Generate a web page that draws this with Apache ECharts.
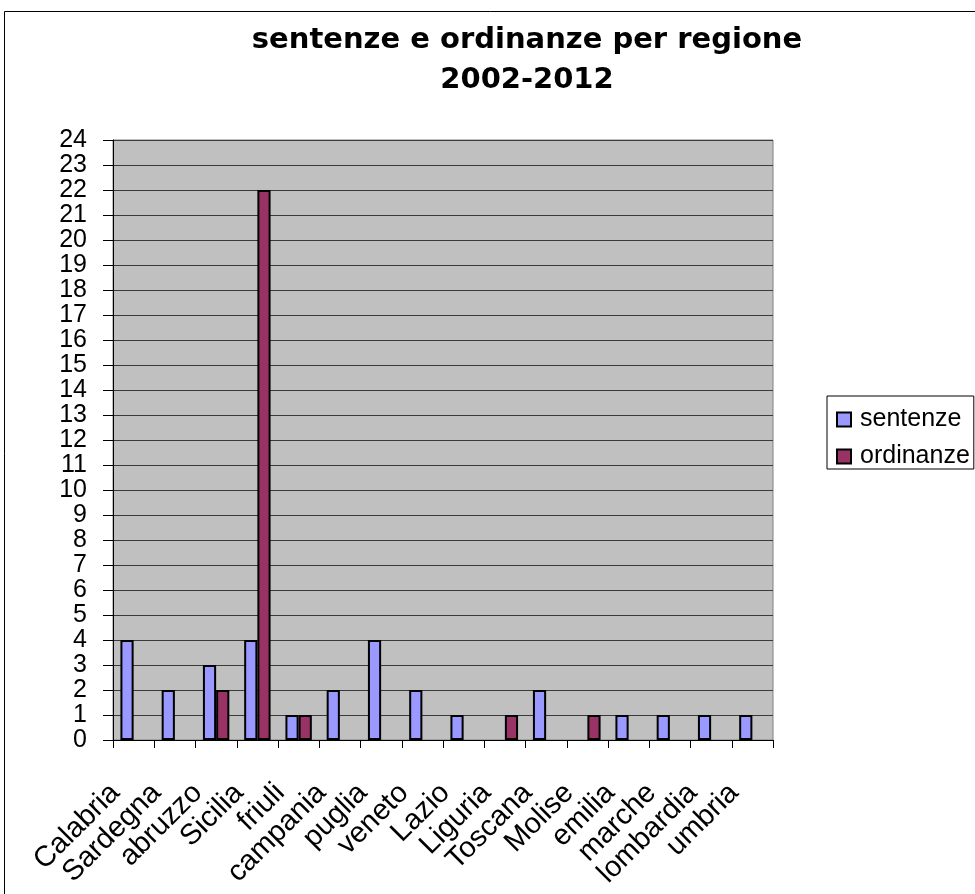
<!DOCTYPE html>
<html>
<head>
<meta charset="utf-8">
<script src="https://cdn.jsdelivr.net/npm/echarts@6/dist/echarts.min.js"></script>
<style>
  html, body { margin: 0; padding: 0; background: #fff; }
  #chart { width: 975px; height: 894px; }
</style>
</head>
<body>
<div id="chart"></div>
<script>
// regioni
const regioni = ['Calabria', 'Sardegna', 'abruzzo', 'Sicilia', 'friuli', 'campania', 'puglia', 'veneto',
  'Lazio', 'Liguria', 'Toscana', 'Molise', 'emilia', 'marche', 'lombardia', 'umbria'];
const sentenze = [4, 2, 3, 4, 1, 2, 4, 2, 1, 0, 2, 0, 1, 1, 1, 1];
const ordinanze = [0, 0, 2, 22, 1, 0, 0, 0, 0, 1, 0, 1, 0, 0, 0, 0];
const yTicks = [0, 24, 1]; // min, max, interval

const chart = echarts.init(document.getElementById('chart'));

const barStyle = (color) => ({
  color: color,
  borderColor: '#000',
  borderWidth: 2
});
// zero bars are not drawn at all in the original
const noZero = (arr) => arr.map(v => (v === 0 ? '-' : v));

chart.setOption({
  backgroundColor: '#fff',
  animation: false,
  title: {
    text: 'sentenze e ordinanze per regione\n2002-2012',
    left: 522,
    top: 15,
    textAlign: 'center',
    textStyle: {
      fontFamily: 'DejaVu Sans',
      fontWeight: 'bold',
      fontSize: 29,
      lineHeight: 40,
      color: '#000'
    }
  },
  legend: {
    data: ['sentenze', 'ordinanze'],
    orient: 'vertical',
    left: 827,
    top: 396,
    icon: 'rect',
    itemWidth: 14,
    itemHeight: 14,
    itemGap: 12,
    padding: [11, 4, 0, 9],
    borderColor: '#000',
    borderWidth: 1,
    textStyle: {
      fontFamily: 'Liberation Sans',
      fontSize: 25,
      color: '#000',
      padding: [0, 0, 0, 4]
    }
  },
  graphic: [{
    type: 'rect',
    shape: { x: 4.5, y: 11.5, width: 1200, height: 1200 },
    style: { fill: 'none', stroke: '#000', lineWidth: 1 },
    silent: true,
    z: -1
  }],
  grid: {
    left: 113,
    top: 140,
    right: 202,
    bottom: 154,
    show: true,
    backgroundColor: '#c0c0c0',
    borderColor: '#808080',
    borderWidth: 1
  },
  xAxis: {
    type: 'category',
    data: regioni,
    axisLine: { lineStyle: { color: '#000', width: 1 } },
    axisTick: { show: true, length: 8, lineStyle: { color: '#000' } },
    axisLabel: {
      interval: 0,
      rotate: 45,
      margin: 30,
      padding: [0, 26, 0, 0],
      fontFamily: 'Liberation Sans',
      fontSize: 29,
      color: '#000'
    }
  },
  yAxis: {
    type: 'value',
    min: yTicks[0],
    max: yTicks[1],
    interval: yTicks[2],
    axisLine: { show: true, lineStyle: { color: '#000', width: 1 } },
    axisTick: { show: true, length: 10, lineStyle: { color: '#000' } },
    splitLine: { show: true, lineStyle: { color: '#3a3a3a', width: 1 } },
    axisLabel: {
      margin: 26,
      fontFamily: 'Liberation Sans',
      fontSize: 25,
      color: '#000'
    }
  },
  series: [
    {
      name: 'sentenze',
      type: 'bar',
      data: noZero(sentenze),
      barGap: '0%',
      barCategoryGap: '36%',
      itemStyle: barStyle('#9999ff')
    },
    {
      name: 'ordinanze',
      type: 'bar',
      data: noZero(ordinanze),
      itemStyle: barStyle('#993366')
    }
  ]
});
</script>
</body>
</html>
